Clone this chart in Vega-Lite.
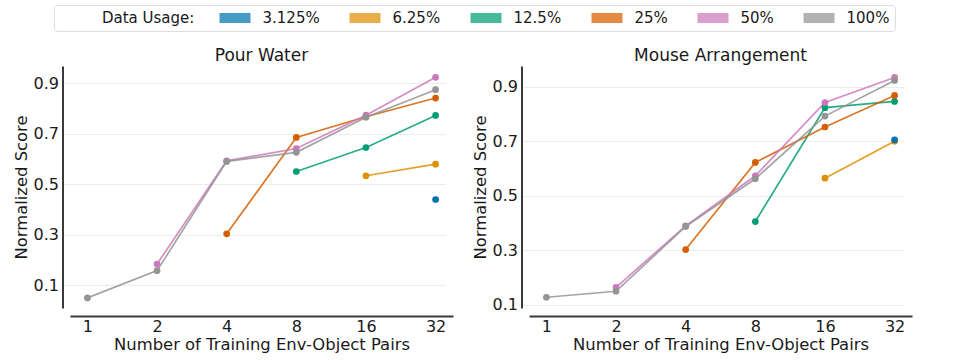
{
  "$schema": "https://vega.github.io/schema/vega-lite/v6.json",
  "background": "white",
  "padding": {"left": 13, "top": 4, "right": 5, "bottom": 5},
  "datasets": {
    "scores": [
      {"task": "Pour Water", "pairs": 16, "usage": "6.25%", "score": 0.534},
      {"task": "Pour Water", "pairs": 32, "usage": "6.25%", "score": 0.58},
      {"task": "Pour Water", "pairs": 8, "usage": "12.5%", "score": 0.551},
      {"task": "Pour Water", "pairs": 16, "usage": "12.5%", "score": 0.646},
      {"task": "Pour Water", "pairs": 32, "usage": "12.5%", "score": 0.773},
      {"task": "Pour Water", "pairs": 4, "usage": "25%", "score": 0.304},
      {"task": "Pour Water", "pairs": 8, "usage": "25%", "score": 0.686},
      {"task": "Pour Water", "pairs": 16, "usage": "25%", "score": 0.768},
      {"task": "Pour Water", "pairs": 32, "usage": "25%", "score": 0.842},
      {"task": "Pour Water", "pairs": 2, "usage": "50%", "score": 0.184},
      {"task": "Pour Water", "pairs": 4, "usage": "50%", "score": 0.593},
      {"task": "Pour Water", "pairs": 8, "usage": "50%", "score": 0.642},
      {"task": "Pour Water", "pairs": 16, "usage": "50%", "score": 0.774},
      {"task": "Pour Water", "pairs": 32, "usage": "50%", "score": 0.924},
      {"task": "Pour Water", "pairs": 1, "usage": "100%", "score": 0.05},
      {"task": "Pour Water", "pairs": 2, "usage": "100%", "score": 0.158},
      {"task": "Pour Water", "pairs": 4, "usage": "100%", "score": 0.591},
      {"task": "Pour Water", "pairs": 8, "usage": "100%", "score": 0.627},
      {"task": "Pour Water", "pairs": 16, "usage": "100%", "score": 0.766},
      {"task": "Pour Water", "pairs": 32, "usage": "100%", "score": 0.875},
      {"task": "Pour Water", "pairs": 32, "usage": "3.125%", "score": 0.44},
      {"task": "Mouse Arrangement", "pairs": 16, "usage": "6.25%", "score": 0.564},
      {"task": "Mouse Arrangement", "pairs": 32, "usage": "6.25%", "score": 0.7},
      {"task": "Mouse Arrangement", "pairs": 8, "usage": "12.5%", "score": 0.405},
      {"task": "Mouse Arrangement", "pairs": 16, "usage": "12.5%", "score": 0.823},
      {"task": "Mouse Arrangement", "pairs": 32, "usage": "12.5%", "score": 0.846},
      {"task": "Mouse Arrangement", "pairs": 4, "usage": "25%", "score": 0.302},
      {"task": "Mouse Arrangement", "pairs": 8, "usage": "25%", "score": 0.622},
      {"task": "Mouse Arrangement", "pairs": 16, "usage": "25%", "score": 0.752},
      {"task": "Mouse Arrangement", "pairs": 32, "usage": "25%", "score": 0.868},
      {"task": "Mouse Arrangement", "pairs": 2, "usage": "50%", "score": 0.163},
      {"task": "Mouse Arrangement", "pairs": 4, "usage": "50%", "score": 0.389},
      {"task": "Mouse Arrangement", "pairs": 8, "usage": "50%", "score": 0.573},
      {"task": "Mouse Arrangement", "pairs": 16, "usage": "50%", "score": 0.842},
      {"task": "Mouse Arrangement", "pairs": 32, "usage": "50%", "score": 0.934},
      {"task": "Mouse Arrangement", "pairs": 1, "usage": "100%", "score": 0.127},
      {"task": "Mouse Arrangement", "pairs": 2, "usage": "100%", "score": 0.149},
      {"task": "Mouse Arrangement", "pairs": 4, "usage": "100%", "score": 0.387},
      {"task": "Mouse Arrangement", "pairs": 8, "usage": "100%", "score": 0.562},
      {"task": "Mouse Arrangement", "pairs": 16, "usage": "100%", "score": 0.792},
      {"task": "Mouse Arrangement", "pairs": 32, "usage": "100%", "score": 0.923},
      {"task": "Mouse Arrangement", "pairs": 32, "usage": "3.125%", "score": 0.705}
    ]
  },
  "data": {"name": "scores"},
  "hconcat": [
    {
      "title": "Pour Water",
      "width": 383,
      "height": 242,
      "transform": [{"filter": "datum.task === 'Pour Water'"}],
      "encoding": {
        "x": {"field": "pairs", "type": "ordinal", "sort": "ascending", "scale": {"type": "point", "padding": 0.25}, "title": "Number of Training Env-Object Pairs"},
        "y": {"field": "score", "type": "quantitative", "scale": {"domain": [0.01, 0.969], "nice": false, "zero": false}, "axis": {"values": [0.1, 0.3, 0.5, 0.7, 0.9], "format": ".1f"}, "title": "Normalized Score"},
        "color": {"field": "usage", "type": "nominal", "scale": {"domain": ["3.125%", "6.25%", "12.5%", "25%", "50%", "100%"], "range": ["#0173b2", "#de8f05", "#029e73", "#d55e00", "#cc78bc", "#949494"]}, "legend": {"title": "\u200b\u00a0\u00a0\u00a0\u00a0\u00a0\u00a0\u00a0\u00a0\u00a0Data Usage:"}}
      },
      "layer": [
        {"mark": {"type": "line", "strokeWidth": 1.7, "opacity": 0.85}},
        {"mark": {"type": "point", "filled": true, "size": 45, "opacity": 1}}
      ]
    },
    {
      "title": "Mouse Arrangement",
      "width": 383,
      "height": 242,
      "transform": [{"filter": "datum.task === 'Mouse Arrangement'"}],
      "encoding": {
        "x": {"field": "pairs", "type": "ordinal", "sort": "ascending", "scale": {"type": "point", "padding": 0.25}, "title": "Number of Training Env-Object Pairs"},
        "y": {"field": "score", "type": "quantitative", "scale": {"domain": [0.0875, 0.976], "nice": false, "zero": false}, "axis": {"values": [0.1, 0.3, 0.5, 0.7, 0.9], "format": ".1f"}, "title": "Normalized Score"},
        "color": {"field": "usage", "type": "nominal", "scale": {"domain": ["3.125%", "6.25%", "12.5%", "25%", "50%", "100%"], "range": ["#0173b2", "#de8f05", "#029e73", "#d55e00", "#cc78bc", "#949494"]}, "legend": {"title": "\u200b\u00a0\u00a0\u00a0\u00a0\u00a0\u00a0\u00a0\u00a0\u00a0Data Usage:"}}
      },
      "layer": [
        {"mark": {"type": "line", "strokeWidth": 1.7, "opacity": 0.85}},
        {"mark": {"type": "point", "filled": true, "size": 45, "opacity": 1}}
      ]
    }
  ],
  "spacing": 76,
  "bounds": "flush",
  "resolve": {"scale": {"color": "shared", "y": "independent", "x": "independent"}, "legend": {"color": "shared"}},
  "config": {
    "font": "DejaVu Sans",
    "view": {"stroke": null},
    "title": {"font": "DejaVu Sans", "fontSize": 17, "fontWeight": "normal", "color": "#1a1a1a", "offset": 1},
    "axis": {"labelFont": "DejaVu Sans", "titleFont": "DejaVu Sans", "labelFontSize": 16, "titleFontSize": 16.4, "titleFontWeight": "normal", "labelColor": "#1a1a1a", "titleColor": "#1a1a1a", "domainColor": "#3a3a3a", "domainWidth": 2, "ticks": false, "gridColor": "#ececec", "gridWidth": 1},
    "axisX": {"offset": 8, "labelPadding": 2, "titlePadding": 2, "labelAngle": 0},
    "axisY": {"offset": 7.5, "labelPadding": 4, "titlePadding": 4},
    "legend": {
      "orient": "none",
      "legendX": -16,
      "legendY": -61,
      "direction": "horizontal",
      "columns": 6,
      "titleOrient": "left",
      "titleAnchor": "middle",
      "titleBaseline": "middle",
      "titleFont": "DejaVu Sans",
      "titleFontSize": 15,
      "titleFontWeight": "normal",
      "titleColor": "#1a1a1a",
      "titlePadding": 32,
      "labelFont": "DejaVu Sans",
      "labelFontSize": 15,
      "labelColor": "#1a1a1a",
      "labelOffset": 19.5,
      "columnPadding": 29,
      "symbolType": "M-2,-0.65H2V0.65H-2Z",
      "symbolSize": 240,
      "symbolOpacity": 0.72,
      "symbolStrokeWidth": 0,
      "padding": 5,
      "strokeColor": "#dddddd",
      "cornerRadius": 3
    }
  }
}
